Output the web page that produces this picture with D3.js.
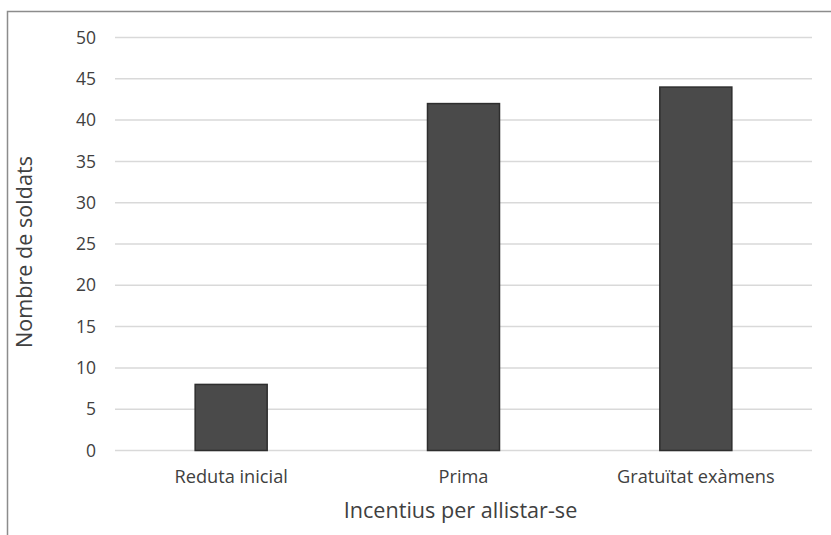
<!DOCTYPE html>
<html>
<head>
<meta charset="utf-8">
<script src="https://cdn.jsdelivr.net/npm/d3@7"></script>
<style>
  body { margin: 0; background: #fff; }
  text { font-family: 'Open Sans', sans-serif; fill: #404040; }
</style>
</head>
<body>
<svg id="chart" width="831" height="535"></svg>
<script>
// Data
const categories = ['Reduta inicial', 'Prima', 'Gratuïtat exàmens'];
const soldiers = [8, 42, 44];
const yTicks = [0, 5, 10, 15, 20, 25, 30, 35, 40, 45, 50];
const xTitle = 'Incentius per allistar-se';
const yTitle = 'Nombre de soldats';

// Layout
const WIDTH = 831;
const HEIGHT = 535;
const plot = { left: 115, right: 812, top: 37.5, bottom: 450.5 };

const svg = d3.select('#chart');

// Outer frame (runs off the right and bottom of the picture)
svg.append('rect')
  .attr('x', 7.5)
  .attr('y', 11.5)
  .attr('width', WIDTH + 20)
  .attr('height', HEIGHT + 20)
  .attr('fill', 'none')
  .attr('stroke', '#8c8c8c')
  .attr('stroke-width', 1.5);

// Scales
const xScale = d3.scaleBand()
  .domain(categories)
  .range([plot.left, plot.right])
  .paddingInner(0.69)
  .paddingOuter(0.345);

const yScale = d3.scaleLinear()
  .domain([0, 50])
  .range([plot.bottom, plot.top]);

// Gridlines
svg.append('g')
  .selectAll('line')
  .data(yTicks)
  .enter()
  .append('line')
  .attr('x1', plot.left)
  .attr('x2', plot.right)
  .attr('y1', (d) => yScale(d))
  .attr('y2', (d) => yScale(d))
  .attr('stroke', '#d9d9d9')
  .attr('stroke-width', 1.5);

// Y axis
const yAxis = d3.axisLeft(yScale).tickValues(yTicks).tickSize(0).tickPadding(0);
svg.append('g')
  .attr('transform', `translate(96, 0)`)
  .call(yAxis)
  .call((g) => g.select('.domain').remove())
  .selectAll('text')
  .attr('font-size', 17.5)
  .attr('font-family', "'Open Sans', sans-serif")
  .attr('fill', '#404040');

// X axis
const xAxis = d3.axisBottom(xScale).tickSize(0).tickPadding(0);
svg.append('g')
  .attr('transform', `translate(0, 470)`)
  .call(xAxis)
  .call((g) => g.select('.domain').remove())
  .selectAll('text')
  .attr('font-size', 18.2)
  .attr('font-family', "'Open Sans', sans-serif")
  .attr('fill', '#404040');

// Bars
svg.append('g')
  .selectAll('rect')
  .data(soldiers)
  .enter()
  .append('rect')
  .attr('x', (_, i) => xScale(categories[i]))
  .attr('y', (d) => yScale(d))
  .attr('width', xScale.bandwidth())
  .attr('height', (d) => yScale(0) - yScale(d))
  .attr('fill', '#4a4a4a')
  .attr('stroke', '#2e2e2e')
  .attr('stroke-width', 1.5);

// Axis titles
svg.append('text')
  .attr('x', (plot.left + plot.right) / 2 - 3)
  .attr('y', 518)
  .attr('text-anchor', 'middle')
  .attr('font-size', 21.6)
  .text(xTitle);

svg.append('text')
  .attr('transform', `translate(32, 252) rotate(-90)`)
  .attr('text-anchor', 'middle')
  .attr('font-size', 21.6)
  .text(yTitle);
</script>
</body>
</html>
